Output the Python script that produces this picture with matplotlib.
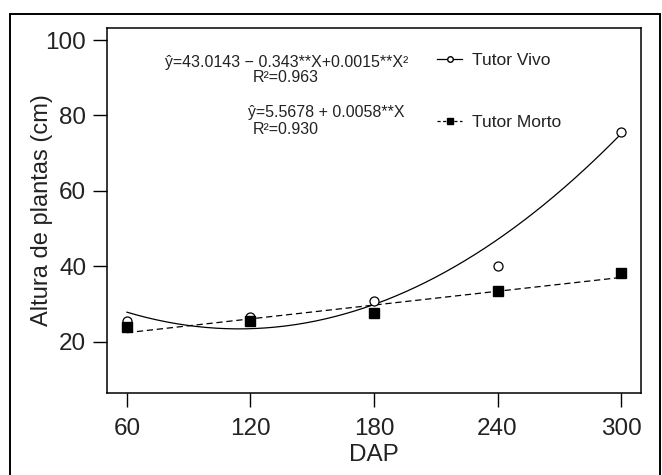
import numpy as np
import matplotlib
matplotlib.use('Agg')
import matplotlib.pyplot as plt
from matplotlib.lines import Line2D
from matplotlib.patches import Rectangle

plt.rcParams['font.family'] = ['Liberation Sans', 'DejaVu Sans']

# dados
dap = [60, 120, 180, 240, 300]
tutor_vivo = [25.5, 26.6, 30.7, 40.0, 75.5]
tutor_morto = [24.0, 25.4, 27.5, 33.4, 38.3]
quad_coef = [43.0143, -0.343, 0.0015]
y_ticks = [20, 40, 60, 80, 100]
eq_vivo = 'ŷ=43.0143 − 0.343**X+0.0015**X²'
r2_vivo = 'R²=0.963'
eq_morto = 'ŷ=5.5678 + 0.0058**X'
r2_morto = 'R²=0.930'

W, H = 662, 475
fig = plt.figure(figsize=(W / 100, H / 100), dpi=100)
ax = fig.add_axes([107 / W, 1 - 393 / H, (641 - 107) / W, (393 - 28) / H])

# curvas ajustadas
xs = np.linspace(dap[0], dap[-1], 200)
yq = quad_coef[0] + quad_coef[1] * xs + quad_coef[2] * xs ** 2
ax.plot(xs, yq, color='black', lw=0.9, zorder=2)
b, a = np.polyfit(dap, tutor_morto, 1)
ax.plot(xs, a + b * xs, color='black', lw=0.9, ls=(0, (5, 3)), zorder=2)

# pontos observados
ax.plot(dap, tutor_vivo, 'o', ms=6.5, mfc='white', mec='black', mew=0.9, zorder=3)
ax.plot(dap, tutor_morto, 's', ms=7, mfc='black', mec='black', zorder=4)

ax.set_xlim(50.3, 309.7)
ax.set_ylim(6.4, 103.2)
ax.set_xticks(dap)
ax.set_yticks(y_ticks)
ax.tick_params(direction='out', length=10, width=1.0, labelsize=17.5,
               colors='black', labelcolor='#222222')
ax.tick_params(axis='x', pad=8)
ax.tick_params(axis='y', pad=5)
for s in ax.spines.values():
    s.set_linewidth(1.1)

ax.set_xlabel('DAP', fontsize=17.5, color='#222222', labelpad=3)
ax.set_ylabel('Altura de plantas (cm)', fontsize=17, color='#222222')
ax.yaxis.set_label_coords((53 - 107) / 534, 0.5)

# equacoes
def px(x, y):
    return x / W, 1 - y / H

fig.text(*px(165, 63), eq_vivo, fontsize=11.5, ha='left', va='center', color='#222222')
fig.text(*px(286, 77), r2_vivo, fontsize=11.5, ha='center', va='center', color='#222222')
fig.text(*px(248, 113), eq_morto, fontsize=11.5, ha='left', va='center', color='#222222')
fig.text(*px(286, 129), r2_morto, fontsize=11.5, ha='center', va='center', color='#222222')

# legenda
handles = [
    Line2D([], [], color='black', lw=0.9, marker='o', ms=4, mfc='white', mec='black'),
    Line2D([], [], color='black', lw=0.9, ls=(0, (2.5, 2)), marker='s', ms=5, mfc='black'),
]
fig.legend(handles, ['Tutor Vivo', 'Tutor Morto'], loc='upper left',
           bbox_to_anchor=px(437, 53), bbox_transform=fig.transFigure,
           frameon=False, fontsize=12.5, handlelength=1.45, handletextpad=0.55,
           labelspacing=2.7, borderpad=0, borderaxespad=0, labelcolor='#222222')

# moldura externa
fig.patches.append(Rectangle((10 / W, -0.01), (660 - 10) / W, 1 - 14 / H + 0.01,
                             transform=fig.transFigure, fill=False,
                             edgecolor='black', lw=1.4))

fig.savefig('out.png', dpi=100)
